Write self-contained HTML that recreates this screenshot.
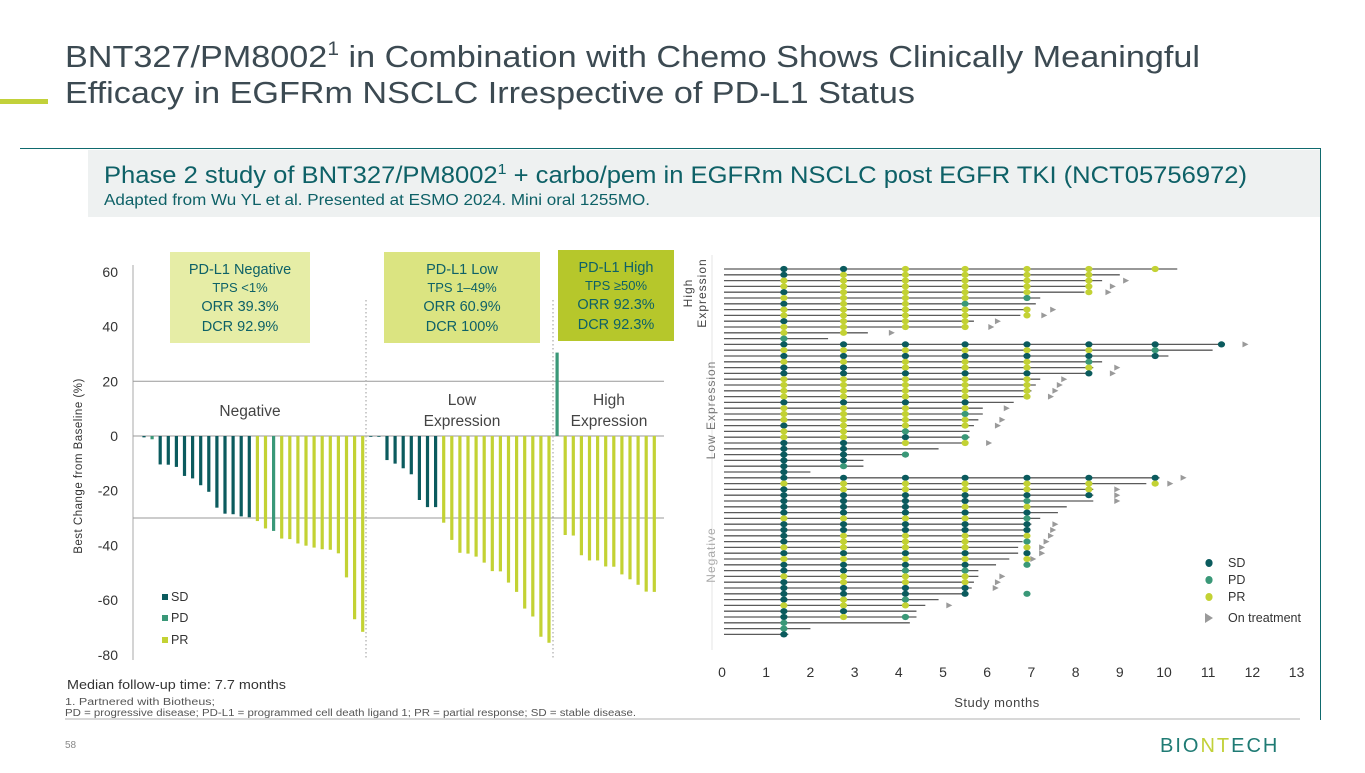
<!DOCTYPE html>
<html><head><meta charset="utf-8">
<style>
html,body{margin:0;padding:0;background:#fff;}
body{width:1365px;height:768px;overflow:hidden;font-family:"Liberation Sans",sans-serif;}
svg text{font-family:"Liberation Sans",sans-serif;}
</style></head>
<body>
<svg id="page" width="1365" height="768" viewBox="0 0 1365 768" xmlns="http://www.w3.org/2000/svg">
  <g fill="#3c4a52" font-size="31">
    <text x="65" y="67" textLength="1135" lengthAdjust="spacingAndGlyphs">BNT327/PM8002<tspan font-size="19" dy="-12">1</tspan><tspan dy="12"> in Combination with Chemo Shows Clinically Meaningful</tspan></text>
    <text x="65" y="103" textLength="850" lengthAdjust="spacingAndGlyphs">Efficacy in EGFRm NSCLC Irrespective of PD-L1 Status</text>
  </g>
  <rect x="0" y="99" width="48" height="5" fill="#c2d13a"/>
  <g>
    <path d="M20 148.5 H1320.5 V720" fill="none" stroke="#0f6a6e" stroke-width="1"/>
    <rect x="88" y="150" width="1232" height="67" fill="#eef1f1"/>
    <text x="104" y="183" font-size="24" fill="#0e6167" textLength="1143" lengthAdjust="spacingAndGlyphs">Phase 2 study of BNT327/PM8002<tspan font-size="15" dy="-9">1</tspan><tspan dy="9"> + carbo/pem in EGFRm NSCLC post EGFR TKI (NCT05756972)</tspan></text>
    <text x="104" y="205" font-size="15.5" fill="#0e6167" textLength="546" lengthAdjust="spacingAndGlyphs">Adapted from Wu YL et al. Presented at ESMO 2024. Mini oral 1255MO.</text>
  </g>

  <g id="waterfall"></g>
  <g id="swimmer"></g>

  <g>
    <text x="67" y="689" font-size="13" fill="#333" textLength="219" lengthAdjust="spacingAndGlyphs">Median follow-up time: 7.7 months</text>
    <text x="65" y="705" font-size="10" fill="#555" textLength="150" lengthAdjust="spacingAndGlyphs">1. Partnered with Biotheus;</text>
    <text x="65" y="716" font-size="10" fill="#555" textLength="571" lengthAdjust="spacingAndGlyphs">PD = progressive disease; PD-L1 = programmed cell death ligand 1; PR = partial response; SD = stable disease.</text>
    <line x1="65" y1="719" x2="1300" y2="719" stroke="#999" stroke-width="0.8"/>
    <text x="65" y="748" font-size="10" fill="#888">58</text>
    <text x="1160" y="752" font-size="20" fill="#1f7b74" letter-spacing="2">BIO<tspan fill="#c2d13a">NT</tspan>ECH</text>
  </g>
</svg>
<script>
const NS='http://www.w3.org/2000/svg';
function mk(parent,tag,attrs,txt){const e=document.createElementNS(NS,tag);for(const k in attrs)e.setAttribute(k,attrs[k]);if(txt!==undefined)e.textContent=txt;parent.appendChild(e);return e;}
const COL={S:'#0b5b5e',D:'#3a9878',P:'#c3d234'};

/* ---------- Waterfall data ---------- */
const wfNegValues=[-0.5,-1.2,-10.4,-10.5,-11.3,-14.6,-15.5,-18,-20.4,-26.2,-28.4,-28.6,-29.4,-29.7,-31.1,-33.8,-34.7,-37.5,-37.7,-39.3,-40.1,-40.8,-41.4,-41.6,-42.9,-51.7,-67,-71.6];
const wfNegStatus="SDSSSSSSSSSSSSPPDPPPPPPPPPPP";
const wfLowValues=[-0.3,0,-8.8,-10.1,-11.8,-14,-23.4,-26,-26,-31.7,-38,-42.7,-43,-44.1,-46.3,-49.4,-49.5,-53.6,-57,-63.1,-66,-73.4,-75.6];
const wfLowStatus="SSSSSSSSSPPPPPPPPPPPPPP";
const wfHighValues=[30.5,-36.2,-36.4,-43.6,-45.5,-45.5,-47.7,-47.8,-50.6,-52.4,-54.4,-56.9,-57];
const wfHighStatus="DPPPPPPPPPPPP";
const wfTicks=[60,40,20,0,-20,-40,-60,-80];

const wf=document.getElementById('waterfall');
const yV=v=>436-v*54.7/20;
const xB=i=>144+8.1*i;
let ax=mk(wf,'line',{x1:133,y1:265,x2:133,y2:660,stroke:'#aaa','stroke-width':1});


wfTicks.forEach(t=>{const e=mk(wf,'text',{x:118,y:yV(t)+5,'text-anchor':'end','font-size':14,fill:'#333'},String(t));
 
 });
[20,-30].forEach(v=>{const e=mk(wf,'line',{x1:133,y1:yV(v),x2:664,y2:yV(v),stroke:'#999','stroke-width':1});
 
 });
let z=mk(wf,'line',{x1:133,y1:436,x2:664,y2:436,stroke:'#999','stroke-width':1});


[366,553].forEach(x=>{const e=mk(wf,'line',{x1:x,y1:300,x2:x,y2:660,stroke:'#aaa','stroke-width':1.2,'stroke-dasharray':'1.5 2.5'});
 
 });
const allV=wfNegValues.concat(wfLowValues,wfHighValues);
const allS=wfNegStatus+wfLowStatus+wfHighStatus;
allV.forEach((v,i)=>{const y0=yV(0),y1=yV(v);const h=Math.max(Math.abs(y1-y0),0.8);
 const b=mk(wf,'rect',{x:xB(i)-1.6,y:Math.min(y0,y1),width:3.2,height:h,fill:COL[allS[i]]});
 
 });
let yt=mk(wf,'text',{x:0,y:0,'font-size':11.5,fill:'#333','text-anchor':'middle',transform:'translate(82,466) rotate(-90)','letter-spacing':'0.5'},'Best Change from Baseline (%)');


[['Negative',250,416],['Low',462,405],['Expression',462,426],['High',609,405],['Expression',609,426]].forEach(a=>{
 const e=mk(wf,'text',{x:a[1],y:a[2],'text-anchor':'middle','font-size':15.5,fill:'#444'},a[0]);
 
 });
[['SD','S',601],['PD','D',622],['PR','P',644]].forEach(a=>{
 const g=mk(wf,'g',{});
 
 
 mk(g,'rect',{x:162,y:a[2]-7,width:6,height:6,fill:COL[a[1]]});
 mk(g,'text',{x:171,y:a[2],'font-size':12.5,fill:'#333'},a[0]);});
[[170,252,140,'#e6eda6','PD-L1 Negative','TPS <1%','ORR 39.3%','DCR 92.9%'],
 [384,252,156,'#dbe481','PD-L1 Low','TPS 1–49%','ORR 60.9%','DCR 100%'],
 [558,250,116,'#b6c72b','PD-L1 High','TPS ≥50%','ORR 92.3%','DCR 92.3%']].forEach(b=>{
 const g=mk(wf,'g',{});
 
 
 mk(g,'rect',{x:b[0],y:b[1],width:b[2],height:91,fill:b[3]});
 const cx=b[0]+b[2]/2;
 mk(g,'text',{x:cx,y:b[1]+22,'text-anchor':'middle','font-size':14.5,fill:'#0e6167'},b[4]);
 mk(g,'text',{x:cx,y:b[1]+40,'text-anchor':'middle','font-size':13,fill:'#0e6167'},b[5]);
 mk(g,'text',{x:cx,y:b[1]+59,'text-anchor':'middle','font-size':14.5,fill:'#0e6167'},b[6]);
 mk(g,'text',{x:cx,y:b[1]+79,'text-anchor':'middle','font-size':14.5,fill:'#0e6167'},b[7]);});

/* ---------- Swimmer data ---------- */
const swT=[1.4,2.75,4.15,5.5,6.9,8.3,9.8,11.3];
const swHighEnd=[10.3,9.0,8.6,8.3,8.2,7.2,7.1,6.95,6.75,5.7,5.55,3.3,2.4];
const swHighArrow=[0,0,1,1,1,0,0,1,1,1,1,1,0];
const swHighDots=["SSPPPPP","SPPPPP","PPPPPP","PPPPPP","SPPPPP","PPPPD","SPPD","PPPPP","PPPPP","SPPP","PPPP","PP","D"];
const swLowEnd=[11.3,11.1,10.1,8.6,8.4,8.3,7.2,7.1,7.0,6.9,6.6,5.9,5.9,5.8,5.7,5.6,5.6,5.5,4.9,4.1,3.2,3.2,2.0];
const swLowArrow=[1,0,0,0,1,1,1,1,1,1,0,1,0,1,1,0,0,1,0,0,0,0,0];
const swLowDots=["SSSSSSSS","PPPPPPD","SSSSSSS","PPPPPD","SSPPPP","SSSSSS","PPPPP","PPPPP","PPPPP","PPPPP","SSSS","PPPP","PPPD","PPPP","SPPP","PPD","PPSD","SSPP","SS","SSD","SS","SD","S"];
const swNegEnd=[9.9,9.6,8.4,8.4,8.4,7.8,7.6,7.2,7.0,6.95,6.9,6.8,6.7,6.7,6.5,6.2,5.8,5.8,5.7,5.65,5.5,4.9,4.6,4.4,4.4,4.25,2.0,1.5];
const swNegArrow=[1,1,1,1,1,0,0,0,1,1,1,1,1,1,1,0,0,1,1,1,0,0,1,0,0,0,0,0];
const swNegDots=["SSSSSSS","PPPPPPP","SPPPPP","SSSSSS","SSSSD","SSSPP","SSSSS","PPPPD","SSSSS","SSSSS","SPPPP","SPPPD","PPPPP","SSSSS","PPPPP","SSSSD","SSDD","PPPP","SPPP","SSSS","SSSSD","SPD","PPP","SS","SPD","D","D","S"];
const swTicks=[0,1,2,3,4,5,6,7,8,9,10,11,12,13];

const sw=document.getElementById('swimmer');
const xM=m=>722+m*44.2;
const yR=i=>269+i*5.8;
let sl=mk(sw,'line',{x1:712,y1:255,x2:712,y2:650,stroke:'#e4e4e4','stroke-width':1});


const ends=swHighEnd.concat(swLowEnd,swNegEnd);
const arrows=swHighArrow.concat(swLowArrow,swNegArrow);
const dots=swHighDots.concat(swLowDots,swNegDots);
ends.forEach((e,i)=>{
 const y=yR(i);
 const l=mk(sw,'line',{x1:724,y1:y,x2:xM(e),y2:y,stroke:'#5a5a5a','stroke-width':1.3});
 
 
 if(arrows[i]){const ax=xM(e)+21;
  const a=mk(sw,'path',{d:`M${ax} ${y-3} L${ax+6} ${y} L${ax} ${y+3} Z`,fill:'#9a9a9a'});
  
  }
 dots[i].split('').forEach((s,k)=>{
  const d=mk(sw,'ellipse',{cx:xM(swT[k]),cy:y,rx:3.6,ry:3.1,fill:COL[s]});
  
  });
});
swTicks.forEach(t=>{const e=mk(sw,'text',{x:xM(t),y:677,'text-anchor':'middle','font-size':14,fill:'#333'},String(t));
 
 });
let xt=mk(sw,'text',{x:997,y:707,'text-anchor':'middle','font-size':13,fill:'#444','letter-spacing':'0.5'},'Study months');


[['High',0,692,293,'#444'],['Expression',0,706,293,'#444'],['Low Expression',0,715,410,'#777'],['Negative',0,715,555,'#aaa']].forEach(a=>{
 const e=mk(sw,'text',{x:0,y:0,'text-anchor':'middle','font-size':12,fill:a[4],'letter-spacing':'1',transform:`translate(${a[2]},${a[3]}) rotate(-90)`},a[0]);
 
 });
[['SD','S',567],['PD','D',584],['PR','P',601]].forEach(a=>{
 const g=mk(sw,'g',{});
 
 
 mk(g,'ellipse',{cx:1209,cy:a[2]-4,rx:3.6,ry:4,fill:COL[a[1]]});
 mk(g,'text',{x:1228,y:a[2],'font-size':12.5,fill:'#333'},a[0]);});
const lg=mk(sw,'g',{});


mk(lg,'path',{d:'M1205 613 L1213 618 L1205 623 Z',fill:'#9a9a9a'});
mk(lg,'text',{x:1228,y:622,'font-size':12.5,fill:'#333'},'On treatment');
</script>
</body></html>
